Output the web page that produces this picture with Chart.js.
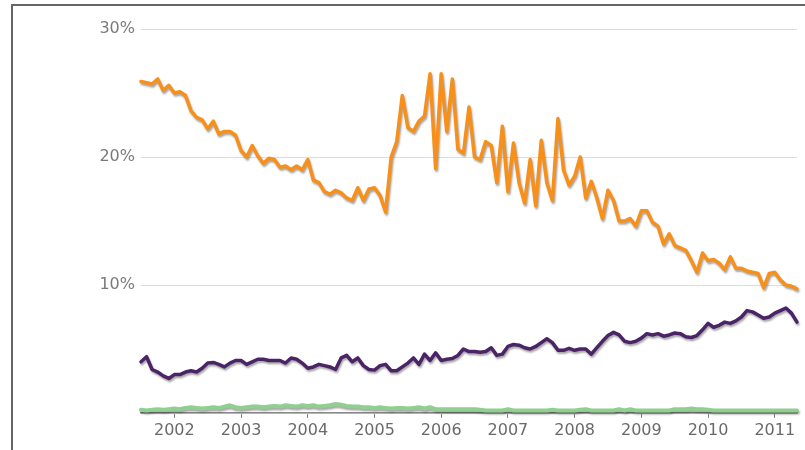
<!DOCTYPE html>
<html>
<head>
<meta charset="utf-8">
<script src="https://cdn.jsdelivr.net/npm/chart.js@4.4.1/dist/chart.umd.min.js"></script>
<style>
  html, body { margin: 0; padding: 0; background: #fff; }
  #wrap { position: relative; width: 805px; height: 450px; overflow: hidden; }
  #frame-top { position: absolute; left: 11px; top: 4px; width: 794px; height: 2px; background: #666; }
  #frame-left { position: absolute; left: 11px; top: 4px; width: 2px; height: 446px; background: #666; }
  canvas { position: absolute; left: 0; top: 0; }
</style>
</head>
<body>
<div id="wrap">
  <canvas id="share-chart" width="805" height="450"></canvas>
  <div id="frame-top"></div>
  <div id="frame-left"></div>
</div>
<script>
// Monthly data, Jul 2001 .. May 2011
const startYear = 2001;
const startMonth = 7;
const monthCount = 119;

const months = [];
for (let i = 0; i < monthCount; i++) {
  const m = startMonth - 1 + i;
  const y = startYear + Math.floor(m / 12);
  months.push(y + "-" + String((m % 12) + 1).padStart(2, "0"));
}

// Y axis ticks (percent)
const yTicks = [0, 10, 20, 30];

// Orange series
const orangeValues = [
  25.9, 25.8, 25.7, 26.1, 25.2, 25.6, 25.0, 25.1, 24.8, 23.6,
  23.1, 22.9, 22.2, 22.8, 21.8, 22.0, 22.0, 21.7, 20.5, 20.0,
  20.9, 20.1, 19.5, 19.9, 19.8, 19.2, 19.3, 19.0, 19.3, 19.0,
  19.8, 18.2, 18.0, 17.3, 17.1, 17.4, 17.2, 16.8, 16.6, 17.6,
  16.6, 17.5, 17.6, 17.0, 15.7, 20.0, 21.2, 24.8, 22.3, 22.0,
  22.8, 23.2, 26.5, 19.1, 26.5, 22.0, 26.1, 20.6, 20.3, 23.9,
  20.0, 19.8, 21.2, 20.9, 18.0, 22.4, 17.3, 21.1, 18.0, 16.4,
  19.8, 16.2, 21.3, 18.0, 16.6, 23.0, 19.0, 17.8, 18.5, 20.0,
  16.8, 18.1, 16.8, 15.2, 17.4, 16.6, 15.0, 15.0, 15.2, 14.6,
  15.8, 15.8, 14.9, 14.6, 13.2, 14.0, 13.1, 12.9, 12.7, 11.9,
  11.0, 12.5, 11.9, 12.0, 11.7, 11.2, 12.2, 11.3, 11.3, 11.1,
  11.0, 10.9, 9.8, 10.9, 11.0, 10.4, 10.0, 9.9, 9.7
];

// Purple series
const purpleValues = [
  4.0, 4.4, 3.4, 3.2, 2.9, 2.7, 3.0, 3.0, 3.2, 3.3,
  3.2, 3.5, 3.9, 3.95, 3.8, 3.6, 3.9, 4.1, 4.1, 3.8,
  4.0, 4.2, 4.2, 4.1, 4.1, 4.1, 3.9, 4.3, 4.2, 3.9,
  3.5, 3.6, 3.8, 3.7, 3.6, 3.4, 4.3, 4.5, 4.0, 4.3,
  3.7, 3.4, 3.35, 3.7, 3.8, 3.3, 3.3, 3.6, 3.9, 4.3,
  3.8, 4.6, 4.1, 4.7, 4.1, 4.2, 4.25, 4.5, 5.0, 4.8,
  4.8, 4.75, 4.8, 5.1, 4.5, 4.6, 5.2, 5.35, 5.3, 5.1,
  5.0, 5.2, 5.5, 5.8, 5.5, 4.9, 4.9, 5.05, 4.9, 5.0,
  5.0, 4.6, 5.1, 5.6, 6.05, 6.3, 6.1, 5.6, 5.5, 5.6,
  5.85, 6.2, 6.1, 6.2, 6.0, 6.1, 6.25, 6.2, 5.95, 5.9,
  6.05, 6.5, 7.0, 6.7, 6.85, 7.1, 7.0, 7.2, 7.5, 8.0,
  7.9, 7.65, 7.4, 7.5, 7.8, 8.0, 8.2, 7.8, 7.1
];

// Green series
const greenValues = [
  0.25, 0.2, 0.25, 0.3, 0.25, 0.3, 0.35, 0.3, 0.4, 0.45,
  0.4, 0.35, 0.4, 0.45, 0.4, 0.5, 0.6, 0.45, 0.4, 0.45,
  0.5, 0.5, 0.45, 0.5, 0.55, 0.5, 0.6, 0.55, 0.5, 0.6,
  0.55, 0.6, 0.5, 0.55, 0.6, 0.7, 0.65, 0.55, 0.5, 0.5,
  0.45, 0.45, 0.4, 0.45, 0.4, 0.35, 0.4, 0.4, 0.35, 0.4,
  0.45, 0.35, 0.45, 0.3, 0.3, 0.3, 0.3, 0.3, 0.3, 0.3,
  0.3, 0.25, 0.2, 0.2, 0.2, 0.2, 0.3, 0.2, 0.2, 0.2,
  0.2, 0.2, 0.2, 0.2, 0.25, 0.2, 0.2, 0.2, 0.2, 0.25,
  0.3, 0.2, 0.2, 0.2, 0.2, 0.2, 0.3, 0.2, 0.3, 0.2,
  0.2, 0.2, 0.2, 0.2, 0.2, 0.2, 0.3, 0.3, 0.3, 0.35,
  0.3, 0.3, 0.25, 0.2, 0.2, 0.2, 0.2, 0.2, 0.2, 0.2,
  0.2, 0.2, 0.2, 0.2, 0.2, 0.2, 0.2, 0.2, 0.2
];

// Soft drop shadow under the lines
const lineShadow = {
  id: "lineShadow",
  beforeDatasetDraw(chart) {
    const ctx = chart.ctx;
    ctx.save();
    ctx.shadowColor = "rgba(0, 0, 0, 0.35)";
    ctx.shadowBlur = 2;
    ctx.shadowOffsetX = 1;
    ctx.shadowOffsetY = 2;
  },
  afterDatasetDraw(chart) {
    chart.ctx.restore();
  },
};

const lineStyle = {
  pointRadius: 0,
  pointHoverRadius: 0,
  tension: 0,
  borderJoinStyle: "round",
  borderCapStyle: "round",
  fill: false,
  clip: false,
};

const dataShare = {
  labels: months,
  datasets: [
    { label: "green", data: greenValues, borderColor: "#8fcf8f", borderWidth: 4, ...lineStyle },
    { label: "purple", data: purpleValues, borderColor: "#4a2466", borderWidth: 3.5, ...lineStyle },
    { label: "orange", data: orangeValues, borderColor: "#f7901a", borderWidth: 3.5, ...lineStyle },
  ],
};

const labelFont = { family: "'DejaVu Sans', Verdana, sans-serif", size: 16 };

const configShare = {
  type: "line",
  data: dataShare,
  plugins: [lineShadow],
  options: {
    responsive: false,
    animation: false,
    events: [],
    layout: { padding: { left: 0, right: 8, top: 29, bottom: 0 } },
    plugins: {
      legend: { display: false },
      tooltip: { enabled: false },
    },
    scales: {
      x: {
        type: "category",
        offset: false,
        border: { display: true, color: "#8a8a8a", width: 1.5 },
        grid: {
          display: true,
          drawOnChartArea: false,
          drawTicks: true,
          tickLength: 5,
          color: "#8a8a8a",
        },
        ticks: {
          autoSkip: false,
          maxRotation: 0,
          padding: 3,
          color: "#6a6a6a",
          font: labelFont,
          callback: function (value) {
            const lab = months[value];
            return lab.endsWith("-01") ? lab.slice(0, 4) : null;
          },
        },
        afterFit: function (scale) {
          scale.height = 37;
        },
      },
      y: {
        min: yTicks[0],
        max: yTicks[yTicks.length - 1],
        border: { display: false },
        grid: { color: "#dedede", lineWidth: 1, drawTicks: false },
        afterBuildTicks: function (scale) {
          scale.ticks = yTicks.map(function (v) { return { value: v }; });
        },
        ticks: {
          padding: 6,
          color: "#7a7a7a",
          font: labelFont,
          callback: function (value) {
            return value === 0 ? "" : value + "%";
          },
        },
        afterFit: function (scale) {
          scale.width = 141;
        },
      },
    },
  },
};

const shareChart = new Chart(document.getElementById("share-chart"), configShare);
</script>
</body>
</html>
